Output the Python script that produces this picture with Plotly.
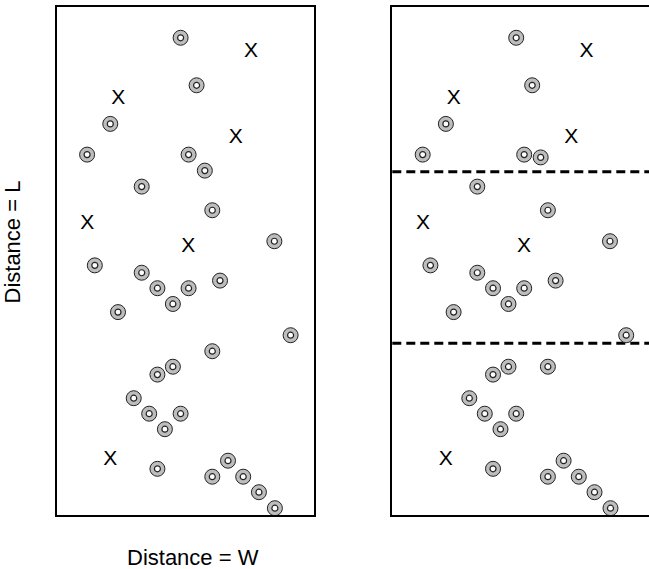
import plotly.graph_objects as go

# ---- data (units: W across 0..100, L up 0..200) ----
circle_x = [48.1, 54.3, 20.8, 11.8, 51.2, 57.5, 33.0, 60.4, 84.5, 14.8,
            33.0, 39.1, 51.2, 63.4, 45.1, 23.8, 90.8, 60.4, 45.1, 39.1,
            29.9, 35.9, 48.1, 42.0, 39.1, 66.5, 60.4, 72.4, 78.5, 84.7]
circle_y = [188.0, 169.3, 154.1, 142.0, 142.0, 135.7, 129.4, 120.1, 107.9, 98.4,
            95.5, 89.4, 89.4, 92.4, 83.2, 80.0, 70.9, 64.6, 58.5, 55.4,
            46.1, 40.0, 40.0, 33.9, 18.3, 21.5, 15.2, 15.2, 9.1, 2.8]

right_circle_x = [48.1, 54.3, 20.8, 11.8, 51.2, 57.6, 33.0, 60.4, 84.5, 14.8,
                  33.0, 39.1, 51.2, 63.4, 45.1, 23.8, 90.8, 60.4, 45.1, 39.1,
                  29.9, 35.9, 48.1, 42.0, 39.1, 66.5, 60.4, 72.4, 78.5, 84.7]
right_circle_y = [188.0, 169.3, 154.1, 142.0, 142.0, 140.9, 129.4, 120.1, 107.9, 98.4,
                  95.5, 89.4, 89.4, 92.4, 83.2, 80.0, 70.9, 58.5, 58.5, 55.4,
                  46.1, 40.0, 40.0, 33.9, 18.3, 21.5, 15.2, 15.2, 9.1, 2.8]

cross_x = [75.4, 23.9, 69.5, 11.9, 51.1, 20.8]
cross_y = [183.2, 164.8, 149.4, 115.6, 106.4, 22.8]

split_levels = [135.3, 67.7]

x_title = "Distance = W"
y_title = "Distance = L"

FONT = "Liberation Sans, Arial, sans-serif"
W, H = 649, 569


def px_x(p):
    return p / W


def px_y(p):
    return 1 - p / H


X_TEXT_SHIFT = 0.8    # visual centring of the "X" glyph (data units, down)

fig = go.Figure()


def add_panel(xs, ys, cx, cy, xa, ya):
    fig.add_trace(go.Scatter(
        x=xs, y=ys, mode="markers", xaxis=xa, yaxis=ya, cliponaxis=False,
        marker=dict(size=15, color="#bdbdbd", line=dict(color="#222222", width=1)),
        hoverinfo="skip", showlegend=False))
    fig.add_trace(go.Scatter(
        x=xs, y=ys, mode="markers", xaxis=xa, yaxis=ya, cliponaxis=False,
        marker=dict(size=6, color="white", line=dict(color="#222222", width=1.2)),
        hoverinfo="skip", showlegend=False))
    fig.add_trace(go.Scatter(
        x=cx, y=[v - X_TEXT_SHIFT for v in cy], mode="text", text=["X"] * len(cx),
        xaxis=xa, yaxis=ya, textposition="middle center", cliponaxis=False,
        textfont=dict(family=FONT, size=21, color="black"),
        hoverinfo="skip", showlegend=False))


add_panel(circle_x, circle_y, cross_x, cross_y, "x", "y")
add_panel(right_circle_x, right_circle_y, cross_x, cross_y, "x2", "y2")

for lvl in split_levels:
    fig.add_shape(type="line", xref="x2 domain", yref="y2", x0=0, x1=1, y0=lvl, y1=lvl,
                  line=dict(color="black", width=3, dash="9px,5px"), layer="below")

ydom = [px_y(515.3), px_y(7.3)]
axis_common = dict(showgrid=False, zeroline=False, showticklabels=False, ticks="",
                   showline=True, linecolor="black", linewidth=2)

fig.update_layout(
    width=W, height=H,
    margin=dict(l=0, r=0, t=0, b=0),
    paper_bgcolor="white", plot_bgcolor="white",
    xaxis=dict(domain=[px_x(56.7), px_x(314.3)], range=[0, 100], mirror=True, **axis_common),
    yaxis=dict(domain=ydom, range=[0, 200], mirror=True, **axis_common),
    xaxis2=dict(domain=[px_x(392.3), 1.0], range=[0, 100 * (W - 392.3) / 257.6],
                mirror=True, anchor="y2", **axis_common),
    yaxis2=dict(domain=ydom, range=[0, 200], mirror=False, anchor="x2", **axis_common),
    annotations=[
        dict(text=x_title, xref="paper", yref="paper", x=px_x(193.3), y=px_y(557.5),
             xanchor="center", yanchor="middle", showarrow=False,
             font=dict(family=FONT, size=22, color="black")),
        dict(text=y_title, xref="paper", yref="paper", x=px_x(12.8), y=px_y(241.7),
             xanchor="center", yanchor="middle", showarrow=False, textangle=-90,
             font=dict(family=FONT, size=22, color="black")),
    ],
)

fig.write_html(
    "out.html",
    config={"displayModeBar": False},
    post_script="document.body.style.margin='0';document.body.style.overflow='hidden';",
)
